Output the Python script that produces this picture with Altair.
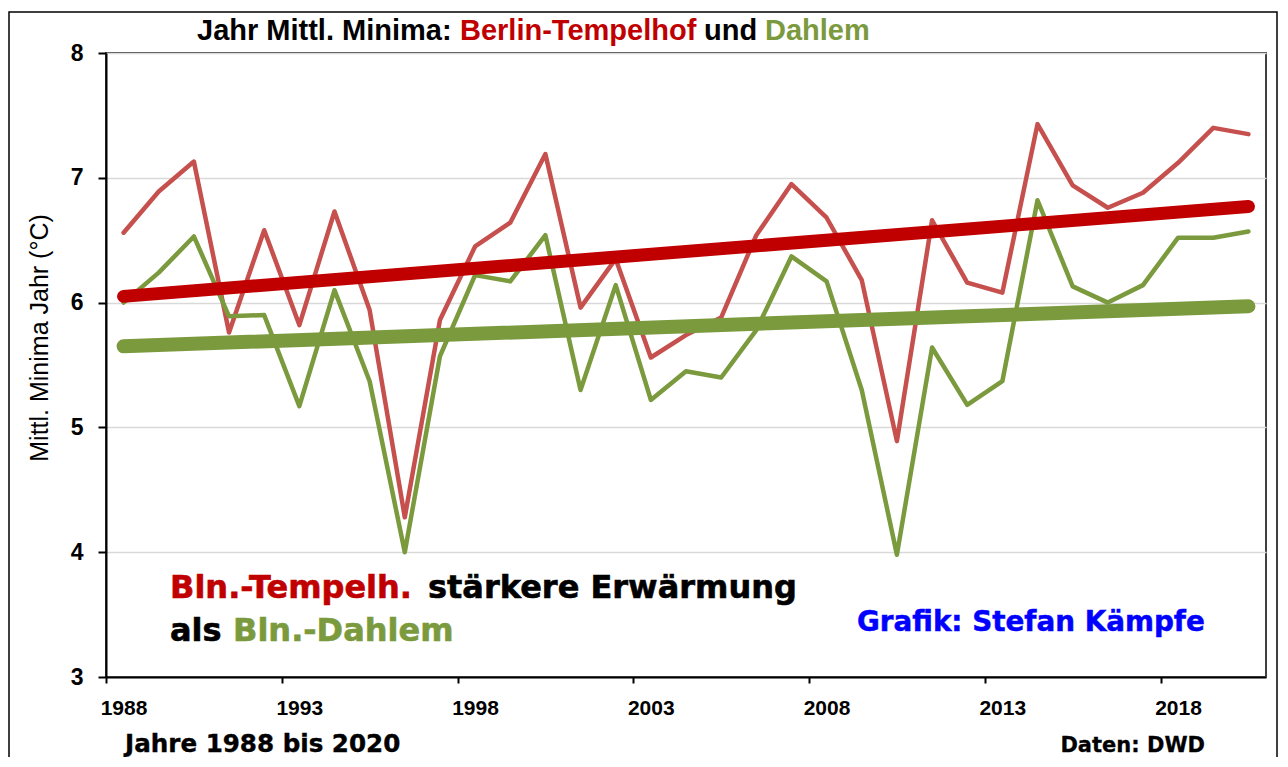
import altair as alt
import pandas as pd

years = list(range(1988, 2021))
tempelhof = [6.56, 6.89, 7.13, 5.76, 6.58, 5.82, 6.73, 5.94, 4.28, 5.86,
             6.45, 6.64, 7.19, 5.96, 6.35, 5.56, 5.74, 5.88, 6.54, 6.95,
             6.68, 6.18, 4.89, 6.66, 6.16, 6.08, 7.43, 6.94, 6.76, 6.88,
             7.12, 7.40, 7.35]
dahlem = [6.00, 6.24, 6.53, 5.89, 5.90, 5.17, 6.10, 5.37, 4.00, 5.57,
          6.22, 6.17, 6.54, 5.30, 6.14, 5.22, 5.45, 5.40, 5.78, 6.37,
          6.17, 5.30, 3.98, 5.64, 5.18, 5.37, 6.82, 6.13, 6.00, 6.14,
          6.52, 6.52, 6.57]
trend_years = [1988, 2020]
trend_tempelhof = [6.05, 6.77]
trend_dahlem = [5.65, 5.97]
x_tick_values = [1987.5, 1992.5, 1997.5, 2002.5, 2007.5, 2012.5, 2017.5]
y_tick_values = [3, 4, 5, 6, 7, 8]

RED_LINE = "#C5504D"
GREEN = "#7A9A3D"
DARK_RED = "#C00000"

df = pd.DataFrame({
    "Jahr": years * 2,
    "Wert": tempelhof + dahlem,
    "Station": ["Tempelhof"] * len(years) + ["Dahlem"] * len(years),
})
tdf_t = pd.DataFrame({"Jahr": trend_years, "Wert": trend_tempelhof})
tdf_d = pd.DataFrame({"Jahr": trend_years, "Wert": trend_dahlem})

x_enc = alt.X(
    "Jahr:Q",
    scale=alt.Scale(domain=[1987.5, 2020.5], nice=False, zero=False),
    axis=alt.Axis(
        values=x_tick_values,
        labelExpr="format(datum.value + 0.5, 'd')",
        labelOffset=17.5,
        labelFlush=False,
        labelOverlap=False,
        title=None,
        grid=False,
        domainColor="#000000",
        domainWidth=2,
        tickColor="#000000",
        tickWidth=2,
        tickSize=6,
        labelPadding=14,
        labelFont="Liberation Sans",
        labelFontWeight="bold",
        labelFontSize=21,
        labelColor="#000000",
    ),
)
y_enc = alt.Y(
    "Wert:Q",
    scale=alt.Scale(domain=[3, 8], nice=False, zero=False),
    axis=alt.Axis(
        values=y_tick_values,
        format="d",
        title=None,
        grid=True,
        gridColor="#D9D9D9",
        gridWidth=1.5,
        domainColor="#000000",
        domainWidth=2,
        tickColor="#000000",
        tickWidth=2,
        tickSize=8,
        labelPadding=15,
        labelFont="Liberation Sans",
        labelFontWeight="bold",
        labelFontSize=23,
        labelColor="#000000",
    ),
)

color_thin = alt.Color(
    "Station:N",
    scale=alt.Scale(domain=["Tempelhof", "Dahlem"], range=[RED_LINE, GREEN]),
    legend=None,
)

frame = alt.Chart(alt.Data(values=[{"a": 1}])).mark_rect(
    fillOpacity=0, stroke="#000000", strokeWidth=1.5
).encode(x=alt.value(-97), x2=alt.value(1171), y=alt.value(-41), y2=alt.value(760))

lines = alt.Chart(df).mark_line(strokeWidth=4.5, strokeJoin="round", strokeCap="round").encode(
    x=x_enc, y=y_enc, color=color_thin, detail="Station:N"
)
trend_dahlem_layer = alt.Chart(tdf_d).mark_line(
    strokeWidth=14, strokeCap="round", color=GREEN
).encode(x="Jahr:Q", y="Wert:Q")
trend_temp_layer = alt.Chart(tdf_t).mark_line(
    strokeWidth=13, strokeCap="round", color=DARK_RED
).encode(x="Jahr:Q", y="Wert:Q")


def txt(s, x, y, color, size, font="Liberation Sans", weight="bold", align="left",
        angle=0, stroke=0.0, baseline="alphabetic"):
    kw = dict(align=align, baseline=baseline, font=font, fontSize=size,
              fontWeight=weight, color=color)
    if angle:
        kw["angle"] = angle
    if stroke:
        kw["stroke"] = color
        kw["strokeWidth"] = stroke
    return alt.Chart(alt.Data(values=[{"t": s}])).mark_text(**kw).encode(
        x=alt.value(x), y=alt.value(y), text="t:N"
    )


texts = [
    txt("Jahr Mittl. Minima:", 91, -13, "#000000", 29),
    txt("Berlin-Tempelhof", 354, -13, DARK_RED, 29),
    txt("und", 598, -13, "#000000", 29),
    txt("Dahlem", 659, -13, GREEN, 29),
    txt("Bln.-Tempelh.", 64, 545, DARK_RED, 32, font="DejaVu Sans", stroke=0.6),
    txt("stärkere Erwärmung", 322, 545, "#000000", 32, font="DejaVu Sans", stroke=0.6),
    txt("als", 64, 588, "#000000", 32, font="DejaVu Sans", stroke=0.6),
    txt("Bln.-Dahlem", 127, 588, GREEN, 32, font="DejaVu Sans", stroke=0.6),
    txt("Grafik: Stefan Kämpfe", 751, 578, "#0000FF", 27.8, font="DejaVu Sans", stroke=0.5),
    txt("Jahre 1988 bis 2020", 19, 699, "#000000", 24.6, font="DejaVu Sans", stroke=0.4),
    txt("Daten: DWD", 1099, 699, "#000000", 21, font="DejaVu Sans", align="right", stroke=0.3),
    txt("Mittl. Minima Jahr (°C)", -66, 338 - 53, "#000000", 25, weight="normal", angle=270,
        baseline="middle", align="center"),
]

chart = alt.layer(frame, lines, trend_dahlem_layer, trend_temp_layer, *texts).properties(
    width=1160,
    height=624,
    autosize=alt.AutoSizeParams(type="none"),
    padding={"left": 98, "top": 45, "right": 12, "bottom": 80},
    background="#FFFFFF",
).configure_view(
    stroke="#404040", strokeWidth=2
)

chart.save("out.html", embed_options={"renderer": "svg", "actions": False})
